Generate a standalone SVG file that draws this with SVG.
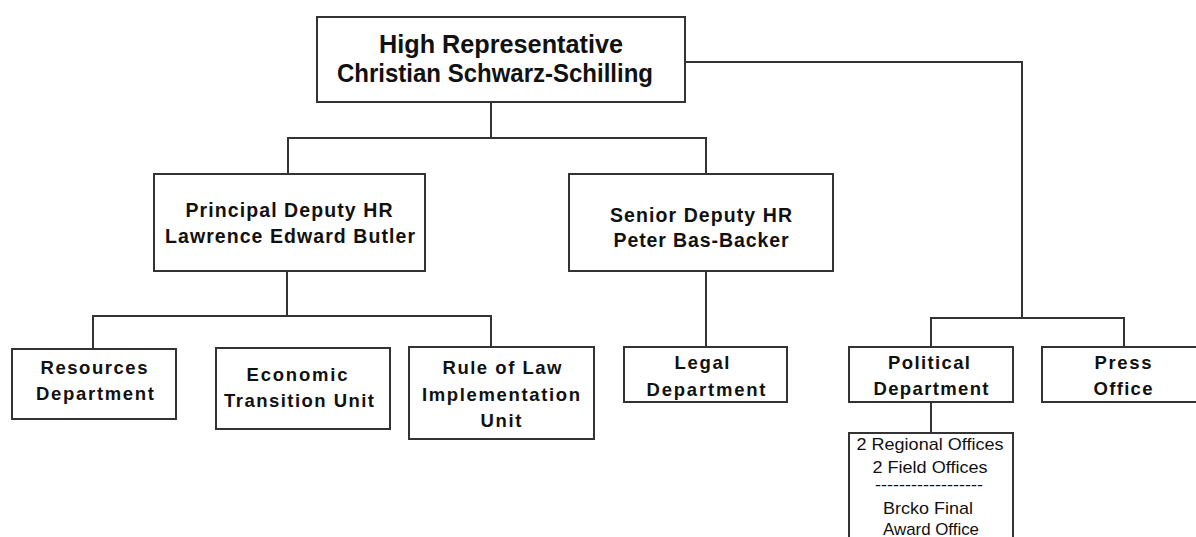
<svg xmlns="http://www.w3.org/2000/svg" width="1196" height="537" viewBox="0 0 1196 537">
<style>
.box{fill:#fff;stroke:#333;stroke-width:2}
.ln{fill:none;stroke:#333;stroke-width:2}
text{font-family:"Liberation Sans",Arial,sans-serif;fill:#111;text-anchor:middle}
.t1{font-size:25px;font-weight:bold}
.t2{font-size:19.5px;font-weight:bold}
.t3{font-size:18.5px;font-weight:bold}
.t4{font-size:17px}
</style>
<rect width="1196" height="537" fill="#fff"/>
<g id="connectors">
<path class="ln" d="M491,102 V138 M288,174 V138 H706 V174"/>
<path class="ln" d="M685,62 H1022 V318 M931,347 V318 H1124 V347"/>
<path class="ln" d="M287,271 V316 M93,349 V316 H491 V347"/>
<path class="ln" d="M706,271 V347"/>
<path class="ln" d="M931,402 V433"/>
</g>
<g id="hr">
<rect class="box" x="317" y="17" width="368" height="85"/>
<text class="t1" x="501" y="53" textLength="244" lengthAdjust="spacingAndGlyphs">High Representative</text>
<text class="t1" x="495" y="82" textLength="316" lengthAdjust="spacingAndGlyphs">Christian Schwarz-Schilling</text>
</g>
<g id="pdhr">
<rect class="box" x="154" y="174" width="271" height="97"/>
<text class="t2" x="289" y="217" textLength="207" lengthAdjust="spacing">Principal Deputy HR</text>
<text class="t2" x="290" y="243" textLength="250" lengthAdjust="spacing">Lawrence Edward Butler</text>
</g>
<g id="sdhr">
<rect class="box" x="569" y="174" width="264" height="97"/>
<text class="t2" x="701" y="222" textLength="182" lengthAdjust="spacing">Senior Deputy HR</text>
<text class="t2" x="701" y="247" textLength="175" lengthAdjust="spacing">Peter Bas-Backer</text>
</g>
<g id="resources">
<rect class="box" x="12" y="349" width="164" height="70"/>
<text class="t3" x="94" y="374" textLength="107" lengthAdjust="spacing">Resources</text>
<text class="t3" x="95" y="400" textLength="118" lengthAdjust="spacing">Department</text>
</g>
<g id="economic">
<rect class="box" x="216" y="348" width="174" height="81"/>
<text class="t3" x="297" y="381" textLength="101" lengthAdjust="spacing">Economic</text>
<text class="t3" x="299" y="407" textLength="150" lengthAdjust="spacing">Transition Unit</text>
</g>
<g id="rol">
<rect class="box" x="409" y="347" width="185" height="92"/>
<text class="t3" x="502" y="374" textLength="119" lengthAdjust="spacing">Rule of Law</text>
<text class="t3" x="501" y="401" textLength="158" lengthAdjust="spacing">Implementation</text>
<text class="t3" x="501" y="427" textLength="41" lengthAdjust="spacing">Unit</text>
</g>
<g id="legal">
<rect class="box" x="624" y="347" width="163" height="55"/>
<text class="t3" x="702" y="369" textLength="55" lengthAdjust="spacing">Legal</text>
<text class="t3" x="706" y="396" textLength="119" lengthAdjust="spacing">Department</text>
</g>
<g id="political">
<rect class="box" x="849" y="347" width="164" height="55"/>
<text class="t3" x="929" y="369" textLength="82" lengthAdjust="spacing">Political</text>
<text class="t3" x="931" y="395" textLength="115" lengthAdjust="spacing">Department</text>
</g>
<g id="press">
<rect class="box" x="1042" y="347" width="170" height="55"/>
<text class="t3" x="1123" y="369" textLength="57" lengthAdjust="spacing">Press</text>
<text class="t3" x="1123" y="395" textLength="59" lengthAdjust="spacing">Office</text>
</g>
<g id="offices">
<rect class="box" x="849" y="433" width="164" height="130"/>
<text class="t4" x="930" y="450" textLength="147" lengthAdjust="spacingAndGlyphs">2 Regional Offices</text>
<text class="t4" x="930" y="473" textLength="115" lengthAdjust="spacingAndGlyphs">2 Field Offices</text>
<text class="t4" x="929" y="490" textLength="108" lengthAdjust="spacingAndGlyphs">------------------</text>
<text class="t4" x="928" y="514" textLength="90" lengthAdjust="spacingAndGlyphs">Brcko Final</text>
<text class="t4" x="931" y="535" textLength="96" lengthAdjust="spacingAndGlyphs">Award Office</text>
</g>
</svg>
